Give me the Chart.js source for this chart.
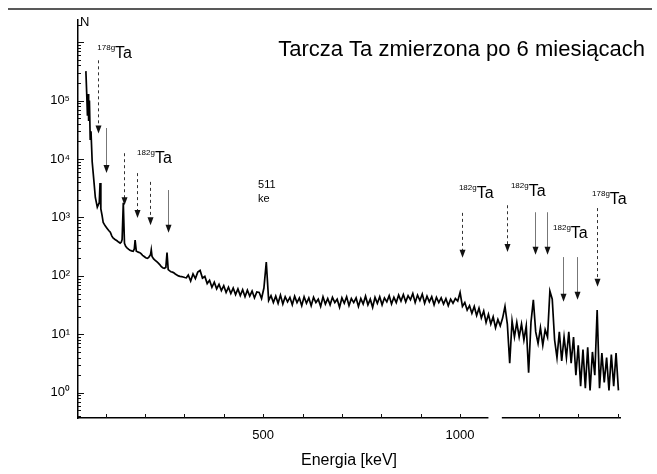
<!DOCTYPE html>
<html>
<head>
<meta charset="utf-8">
<script src="https://cdn.jsdelivr.net/npm/chart.js@4/dist/chart.umd.min.js"></script>
<style>
  html, body { margin: 0; padding: 0; background: #fff; }
  #wrap { width: 657px; height: 474px; position: relative; }
</style>
</head>
<body>
<div id="wrap"><canvas id="myChart"></canvas></div>
<script>
// spectrum (energy in keV, counts N)
var energy = [
  50, 52, 54, 56, 57, 59, 61, 63, 66, 70, 74, 79, 84, 86, 88, 91, 94, 99, 104, 108,
  112, 116, 119, 124, 129, 133, 137, 140, 142, 145, 148, 151, 155, 159, 162, 166, 170, 173, 175, 178,
  181, 183, 187, 190, 194, 198, 202, 206, 209, 211, 214, 216, 218, 222, 226, 230, 234, 238, 241, 245,
  249, 253, 256, 259, 263, 266, 270, 274, 277, 281, 285, 289, 293, 297, 301, 305,
  310, 316, 322, 328, 334, 340, 346, 352, 358, 364,
  370, 376, 382, 388, 394, 400, 406, 412, 418, 424,
  430, 436, 442, 448, 454, 460, 466, 472, 478, 484,
  490, 496, 502, 508, 514, 520, 526, 532, 538, 544,
  550, 556, 562, 568, 574, 580, 586, 592, 598, 604,
  610, 616, 622, 628, 634, 640, 646, 652, 658, 664,
  670, 676, 682, 688, 694, 700, 706, 712, 718, 724,
  730, 736, 742, 748, 754, 760, 766, 772, 778, 784,
  790, 796, 802, 808, 814, 820, 826, 832, 838, 844,
  850, 856, 862, 868, 874, 880, 886, 892, 898, 904,
  910, 916, 922, 928, 934, 940, 946, 952, 958, 964,
  970, 976, 982, 988, 994, 1000, 1006, 1012, 1018, 1024,
  1030, 1036, 1042, 1048, 1054, 1060, 1066, 1072, 1078, 1084,
  1090, 1096, 1102, 1108, 1114, 1120, 1126, 1132, 1138, 1144,
  1150, 1156, 1162, 1168, 1174, 1180, 1186, 1192, 1198, 1204,
  1210, 1216, 1222, 1228, 1234, 1240, 1246, 1252, 1258, 1264,
  1270, 1276, 1282, 1288, 1294, 1300, 1306, 1312, 1318, 1324,
  1330, 1336, 1342, 1348, 1354, 1360, 1366, 1372, 1378, 1384,
  1390, 1396, 1402
];
var counts = [
  320000, 140000, 55000, 130000, 45000, 100000, 22000, 30000, 9000, 4500, 2200, 1500, 1800, 3900, 1400, 1100, 820, 720, 650, 600,
  560, 480, 445, 420, 400, 380, 365, 380, 420, 1780, 360, 320, 300, 285, 275, 268, 265, 290, 410, 265,
  260, 255, 250, 240, 225, 215, 205, 200, 205, 215, 230, 280, 215, 195, 185, 175, 165, 155, 145, 138,
  135, 140, 250, 128, 122, 118, 116, 112, 108, 104, 100, 98, 97, 96, 94, 93,
  104, 82, 108, 90, 116, 124, 92, 98, 74, 84,
  64, 78, 60, 72, 56, 68, 52, 64, 50, 62,
  48, 60, 46, 58, 44, 57, 45, 55, 42, 53,
  52, 41, 62, 172, 38, 46, 35, 45, 34, 47,
  33, 44, 36, 43, 32, 45, 35, 42, 31, 44,
  34, 42, 31, 43, 35, 40, 30, 44, 33, 41,
  32, 43, 35, 40, 29, 42, 34, 44, 31, 41,
  35, 42, 30, 41, 33, 45, 32, 40, 29, 43,
  34, 44, 32, 42, 36, 46, 33, 43, 35, 47,
  37, 48, 36, 46, 39, 50, 35, 47, 38, 49,
  34, 45, 36, 44, 32, 43, 35, 42, 33, 41,
  31, 40, 34, 41, 37, 52, 30, 35, 26, 31,
  23, 30, 21, 28, 19, 25, 16, 22, 15, 20,
  13, 18, 14, 19, 30, 15, 3.2, 17, 9, 16,
  9, 15, 8, 14, 2.2, 16, 39, 11, 7, 13,
  6.5, 12, 9, 55, 40, 8, 4, 11, 3.5, 9,
  4, 11, 3.2, 9, 2, 6.5, 1.3, 5.5, 1.2, 6,
  1.1, 5, 2, 26, 1.2, 4.8, 1.5, 4, 1.1, 4.5,
  1.3, 4.8, 1.1
];

// axis ticks
var xTicks = [100, 200, 300, 400, 500, 600, 700, 800, 900, 1000, 1100, 1200, 1300, 1400];
var xTickLabels = ["", "", "", "", "500", "", "", "", "", "1000", "", "", "", ""];
var yDecades = [1, 10, 100, 1000, 10000, 100000];
var yDecadeLabels = ["10\u2070", "10\u00b9", "10\u00b2", "10\u00b3", "10\u2074", "10\u2075"];

// marker arrows: energy, start count, tip count, dashed?
var arrowE = [80, 101, 147, 180, 213, 259, 1005, 1119, 1190, 1221, 1261, 1297, 1348];
var arrowTop = [490000, 34000, 12600, 5750, 4070, 2950, 1200, 1620, 1230, 1230, 210, 210, 1450];
var arrowTip = [27500, 5750, 1620, 980, 740, 550, 205, 257, 230, 230, 36, 39, 65];
var arrowDashed = [true, false, true, true, true, false, true, true, false, false, false, false, true];

// peak labels: energy and count at the left/baseline of the text
var labelE = [79, 180, 997, 1129, 1236, 1335];
var labelN = [537000, 8500, 2150, 2340, 445, 1700];
var labelSup = ["178g", "182g", "182g", "182g", "182g", "178g"];
var labelMain = ["Ta", "Ta", "Ta", "Ta", "Ta", "Ta"];

var FONT = "'Liberation Sans', Arial, sans-serif";

var annotations = {
  id: "annotations",
  afterDatasetsDraw: function (chart) {
    var c = chart.ctx, xs = chart.scales.x, ys = chart.scales.y, a = chart.chartArea;
    c.save();

    // break in the energy axis
    var b1 = xs.getPixelForValue(1072), b2 = xs.getPixelForValue(1106);
    c.fillStyle = "#fff";
    c.fillRect(b1, a.bottom - 3, b2 - b1, 6);

    // inward tick marks
    c.strokeStyle = "#111";
    c.lineWidth = 1;
    xTicks.forEach(function (v) {
      var px = Math.round(xs.getPixelForValue(v)) + 0.5;
      if (v > 1072 && v < 1106) return;
      c.beginPath(); c.moveTo(px, a.bottom); c.lineTo(px, a.bottom - 4); c.stroke();
    });
    for (var d = -1; d <= 6; d++) {
      for (var m = 1; m <= 9; m++) {
        var v = m * Math.pow(10, d);
        if (v < ys.min || v > ys.max) continue;
        var py = Math.round(ys.getPixelForValue(v)) + 0.5;
        c.beginPath(); c.moveTo(a.left, py); c.lineTo(a.left + (m === 1 ? 6 : 3), py); c.stroke();
      }
    }

    // arrows
    for (var i = 0; i < arrowE.length; i++) {
      var x = Math.round(xs.getPixelForValue(arrowE[i])) + 0.5;
      var y1 = ys.getPixelForValue(arrowTop[i]);
      var y2 = ys.getPixelForValue(arrowTip[i]);
      c.strokeStyle = arrowDashed[i] ? "#333" : "#777";
      c.setLineDash(arrowDashed[i] ? [3, 3] : []);
      c.beginPath(); c.moveTo(x, y1); c.lineTo(x, y2 - 6); c.stroke();
      c.setLineDash([]);
      c.fillStyle = "#111";
      c.beginPath(); c.moveTo(x - 3, y2 - 8); c.lineTo(x + 3, y2 - 8); c.lineTo(x, y2); c.closePath(); c.fill();
    }

    // peak labels
    c.fillStyle = "#000";
    c.textBaseline = "alphabetic";
    c.textAlign = "left";
    for (var j = 0; j < labelE.length; j++) {
      var lx = xs.getPixelForValue(labelE[j]);
      var ly = ys.getPixelForValue(labelN[j]);
      c.font = "8px " + FONT;
      c.fillText(labelSup[j], lx, ly - 8);
      var w = c.measureText(labelSup[j]).width;
      c.font = "16px " + FONT;
      c.fillText(labelMain[j], lx + w, ly);
    }
    var kx = xs.getPixelForValue(487);
    c.font = "11px " + FONT;
    c.fillText("511", kx, ys.getPixelForValue(3200));
    c.fillText("ke", kx, ys.getPixelForValue(1830));

    // title, axis name, top rule
    c.font = "22px " + FONT;
    c.textAlign = "right";
    c.fillText("Tarcza Ta zmierzona po 6 miesi\u0105cach", 645, 56);
    c.textAlign = "left";
    c.font = "13px " + FONT;
    c.fillText("N", a.left + 2, 26);
    c.strokeStyle = "#222";
    c.lineWidth = 1.5;
    c.beginPath(); c.moveTo(8, 9); c.lineTo(652, 9); c.stroke();
    c.restore();
  }
};

var ctx = document.getElementById("myChart").getContext("2d");

var chart = new Chart(ctx, {
  type: "line",
  data: {
    datasets: [
      {
        label: "N",
        data: energy.map(function (e, i) { return { x: e, y: counts[i] }; }),
        borderColor: "#000",
        borderWidth: 1.7,
        pointRadius: 0,
        tension: 0,
        fill: false,
      },
    ],
  },
  options: {
    responsive: true,
    maintainAspectRatio: false,
    animation: false,
    layout: { padding: { left: 0, right: 37, top: 20, bottom: 0 } },
    plugins: { legend: { display: false }, tooltip: { enabled: false }, title: { display: false } },
    scales: {
      x: {
        type: "linear",
        min: 30,
        max: 1406,
        afterFit: function (s) { s.height = 56; },
        afterBuildTicks: function (s) { s.ticks = xTicks.map(function (v) { return { value: v }; }); },
        grid: { display: false, drawTicks: false },
        border: { display: true, color: "#000", width: 1.5 },
        ticks: {
          autoSkip: false,
          maxRotation: 0,
          padding: 10,
          color: "#000",
          font: { family: FONT, size: 13 },
          callback: function (v) { var k = xTicks.indexOf(v); return k >= 0 ? xTickLabels[k] : ""; },
        },
        title: { display: true, text: "Energia [keV]", color: "#000", font: { family: FONT, size: 16 }, padding: { top: 6 } },
      },
      y: {
        type: "logarithmic",
        min: 0.37,
        max: 2400000,
        afterFit: function (s) { s.width = 78; },
        afterBuildTicks: function (s) { s.ticks = yDecades.map(function (v) { return { value: v }; }); },
        grid: { display: false, drawTicks: false },
        border: { display: true, color: "#000", width: 1.5 },
        ticks: {
          autoSkip: false,
          padding: 8,
          color: "#000",
          font: { family: FONT, size: 13 },
          callback: function (v) { var k = yDecades.indexOf(v); return k >= 0 ? yDecadeLabels[k] : ""; },
        },
      },
    },
  },
  plugins: [annotations],
});
</script>
</body>
</html>
